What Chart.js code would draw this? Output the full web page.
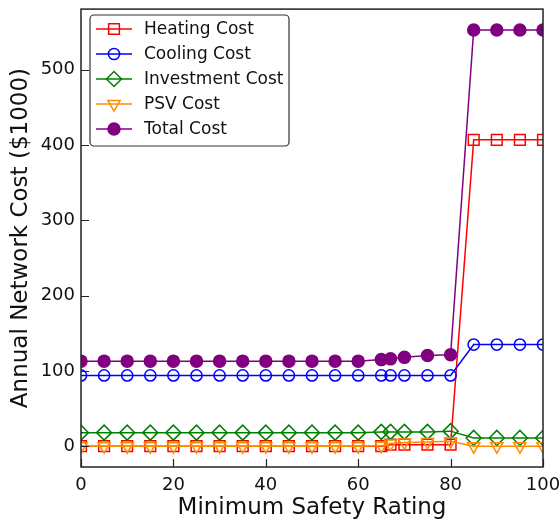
<!DOCTYPE html>
<html>
<head>
<meta charset="utf-8">
<script src="https://cdn.jsdelivr.net/npm/chart.js@4.4.1/dist/chart.umd.min.js"></script>
<style>
  html, body { margin: 0; padding: 0; background: #fff; }
  #wrap { width: 560px; height: 525px; }
</style>
</head>
<body>
<div id="wrap"><canvas id="c" width="560" height="525"></canvas></div>
<script>
// Minimum safety rating (x) and annual network cost components in $1000
const safetyRating = [0, 5, 10, 15, 20, 25, 30, 35, 40, 45, 50, 55, 60, 65, 67, 70, 75, 80, 85, 90, 95, 100];
const heatingCost    = [0, 0, 0, 0, 0, 0, 0, 0, 0, 0, 0, 0, 0, 0, 2, 2, 2, 2, 407, 407, 407, 407];
const coolingCost    = [94, 94, 94, 94, 94, 94, 94, 94, 94, 94, 94, 94, 94, 94, 94, 94, 94, 94, 135, 135, 135, 135];
const investmentCost = [18, 18, 18, 18, 18, 18, 18, 18, 18, 18, 18, 18, 18, 19, 19, 19, 19, 20, 11, 11, 11, 11];
const psvCost        = [0, 0, 0, 0, 0, 0, 0, 0, 0, 0, 0, 0, 0, 0.5, 3.5, 5, 5.7, 6.6, 0, 0, 0, 0];
const totalCost      = [113, 113, 113, 113, 113, 113, 113, 113, 113, 113, 113, 113, 113, 115, 116, 118, 120.5, 121.5, 553, 553, 553, 553];

const xTickValues = [0, 20, 40, 60, 80, 100];
const yTickValues = [0, 100, 200, 300, 400, 500];

const FONT = '"DejaVu Sans", "Liberation Sans", sans-serif';

function pts(ys) { return ys.map((y, i) => ({ x: safetyRating[i], y })); }

const seriesDefs = [
  { label: 'Heating Cost',    values: heatingCost,    color: '#ff0000', style: 'rect',     radius: 7.6, rot: 0,   fill: false },
  { label: 'Cooling Cost',    values: coolingCost,    color: '#0000ff', style: 'circle',   radius: 5.6, rot: 0,   fill: false },
  { label: 'Investment Cost', values: investmentCost, color: '#008000', style: 'rectRot',  radius: 7.5, rot: 0,   fill: false },
  { label: 'PSV Cost',        values: psvCost,        color: '#ff8c00', style: 'triangle', radius: 7,   rot: 180, fill: false },
  { label: 'Total Cost',      values: totalCost,      color: '#800080', style: 'circle',   radius: 6,   rot: 0,   fill: true }
];

const datasets = seriesDefs.map((s, i) => ({
  label: s.label,
  data: pts(s.values),
  borderColor: s.color,
  backgroundColor: s.color,
  borderWidth: 1.5,
  pointStyle: s.style,
  pointRadius: s.radius,
  pointHoverRadius: s.radius,
  pointRotation: s.rot,
  pointBorderColor: s.color,
  pointBorderWidth: 1.5,
  pointBackgroundColor: s.fill ? s.color : 'rgba(0,0,0,0)',
  tension: 0,
  fill: false,
  clip: 0,
  order: seriesDefs.length - i
}));

// Frame around the plot, inward tick marks and a line+marker legend
const framePlugin = {
  id: 'frameAndLegend',
  afterDatasetsDraw(chart) {
    const { ctx, chartArea: a, scales } = chart;
    ctx.save();
    ctx.strokeStyle = '#222';
    ctx.lineWidth = 1.5;
    ctx.strokeRect(a.left, a.top, a.right - a.left, a.bottom - a.top);
    const tl = 8;
    ctx.beginPath();
    xTickValues.forEach(v => {
      const px = Math.round(scales.x.getPixelForValue(v)) + 0.5;
      ctx.moveTo(px, a.bottom); ctx.lineTo(px, a.bottom - tl);
    });
    yTickValues.forEach(v => {
      const py = Math.round(scales.y.getPixelForValue(v)) + 0.5;
      ctx.moveTo(a.left, py); ctx.lineTo(a.left + tl, py);
    });
    ctx.lineWidth = 1.2;
    ctx.stroke();

    // legend
    const lx = 90, ly = 15, lw = 199, lh = 131, r = 4;
    ctx.beginPath();
    ctx.moveTo(lx + r, ly);
    ctx.arcTo(lx + lw, ly, lx + lw, ly + lh, r);
    ctx.arcTo(lx + lw, ly + lh, lx, ly + lh, r);
    ctx.arcTo(lx, ly + lh, lx, ly, r);
    ctx.arcTo(lx, ly, lx + lw, ly, r);
    ctx.closePath();
    ctx.fillStyle = 'rgba(255,255,255,0.9)';
    ctx.fill();
    ctx.strokeStyle = '#333';
    ctx.lineWidth = 1.2;
    ctx.stroke();

    ctx.font = '17px ' + FONT;
    ctx.textBaseline = 'middle';
    ctx.textAlign = 'left';
    chart.data.datasets.forEach((ds, i) => {
      const cy = ly + 14 + i * 25;
      ctx.strokeStyle = ds.borderColor;
      ctx.lineWidth = 1.5;
      ctx.beginPath();
      ctx.moveTo(96, cy); ctx.lineTo(132, cy);
      ctx.stroke();
      ctx.fillStyle = ds.pointBackgroundColor;
      ctx.strokeStyle = ds.pointBorderColor;
      ctx.lineWidth = 1.5;
      Chart.helpers.drawPoint(ctx, {
        pointStyle: ds.pointStyle,
        rotation: ds.pointRotation,
        radius: ds.pointRadius,
        borderWidth: 1.5
      }, 114, cy);
      ctx.fillStyle = '#111';
      ctx.fillText(ds.label, 144, cy + 1);
    });
    ctx.restore();
  }
};

new Chart(document.getElementById('c'), {
  type: 'line',
  data: { datasets },
  options: {
    responsive: false,
    animation: false,
    devicePixelRatio: 1,
    layout: { padding: { left: 0, top: 7, right: 17, bottom: 0 } },
    plugins: { legend: { display: false }, tooltip: { enabled: false } },
    scales: {
      x: {
        type: 'linear',
        min: 0, max: 100,
        afterBuildTicks: s => { s.ticks = xTickValues.map(v => ({ value: v })); },
        afterFit: s => { s.height = 58; s.paddingLeft = 0; s.paddingRight = 0; },
        grid: { display: false, drawTicks: false },
        border: { display: false },
        ticks: { color: '#111', font: { family: FONT, size: 18 }, padding: 8, maxRotation: 0 },
        title: { display: true, text: 'Minimum Safety Rating', color: '#111',
                 font: { family: FONT, size: 23 }, padding: { top: 2, bottom: 3 } }
      },
      y: {
        type: 'linear',
        min: -27.65, max: 580.65,
        afterBuildTicks: s => { s.ticks = yTickValues.map(v => ({ value: v })); },
        afterFit: s => { s.width = 81; s.paddingTop = 0; s.paddingBottom = 0; },
        grid: { display: false, drawTicks: false },
        border: { display: false },
        ticks: { color: '#111', font: { family: FONT, size: 18 }, padding: 6 },
        title: { display: true, text: 'Annual Network Cost ($1000)', color: '#111',
                 font: { family: FONT, size: 23 }, padding: { top: 7, bottom: 4 } }
      }
    }
  },
  plugins: [framePlugin]
});
</script>
</body>
</html>
